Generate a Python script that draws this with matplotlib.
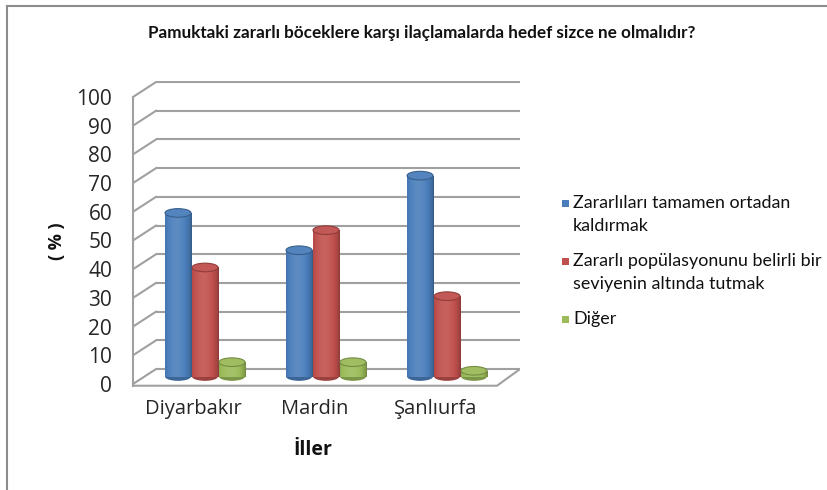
import matplotlib
matplotlib.use('Agg')
import matplotlib.pyplot as plt
import matplotlib.colors as mcolors
from matplotlib.patches import Ellipse, Rectangle
from matplotlib.lines import Line2D
import numpy as np

# data
provinces = ['Diyarbakır', 'Mardin', 'Şanlıurfa']
series_names = ['Zararlıları tamamen ortadan\nkaldırmak',
                'Zararlı popülasyonunu belirli bir\nseviyenin altında tutmak',
                'Diğer']
eradicate = [57, 44, 70]
keep_below = [38, 51, 28]
other = [5, 5, 2]
series = [eradicate, keep_below, other]
colors = ['#4a7ebb', '#c0504d', '#9bbb59']
yticks = list(range(0, 101, 10))

W, H = 828, 490
fig = plt.figure(figsize=(W / 100, H / 100), dpi=100)
fig.patch.set_facecolor('white')

# plot area in pixels -> figure fractions
px_left, px_right = 133, 520
px_top, px_bot = 81.2, 388.3
ax = fig.add_axes([px_left / W, 1 - px_bot / H,
                   (px_right - px_left) / W, (px_bot - px_top) / H])
ax.set_facecolor('none')

# 3d depth offset (x in category units, y in percent units)
DX = 0.19
DY = 5.2
xL, xR = -0.595, 2.603
grid_c = '#a0a0a0'

# back wall + left wall gridlines
for v in yticks:
    ax.plot([xL + DX, xR], [v + DY, v + DY], color=grid_c, lw=1.5, zorder=1,
            solid_capstyle='butt')
    ax.plot([xL, xL + DX], [v, v + DY], color=grid_c, lw=1.5, zorder=1)
# floor edges
ax.plot([xL, xR - DX, xR], [-0.6, -0.6, DY], color=grid_c, lw=1.5, zorder=1)


def shade(color, f):
    r = np.array(mcolors.to_rgb(color))
    if f < 1:
        return r * f
    return r + (1 - r) * min(f - 1, 1)


t = np.linspace(-1, 1, 80)
prof = 0.70 + 0.40 * np.clip(np.cos(np.pi / 2 * (t + 0.15) / 1.15), 0, 1) ** 0.6

offset = 0.223
bw = 0.215
eh = 3.0
base = DY / 2
z = 3
for g in range(len(provinces)):
    for k, vals in enumerate(series):
        c = colors[k]
        xc = g + (k - 1) * offset
        v = vals[g]
        # bottom cap
        ax.add_patch(Ellipse((xc, base), bw, eh, facecolor=shade(c, 0.8),
                             edgecolor='none', zorder=z))
        bars = ax.bar(xc, v, width=bw, bottom=base, color='none',
                      linewidth=0, zorder=z + 0.01)
        body = bars.patches[0]
        img = np.array([[shade(c, f) for f in prof]])
        im = ax.imshow(img, extent=[xc - bw / 2, xc + bw / 2, base, base + v],
                       aspect='auto', interpolation='bilinear', zorder=z + 0.02)
        im.set_clip_path(body)
        # top cap
        ax.add_patch(Ellipse((xc, base + v), bw, eh, facecolor=shade(c, 1.05),
                             edgecolor=shade(c, 0.75), lw=0.8, zorder=z + 0.03))
        z += 0.1

ax.set_xlim(xL, xR)
ax.set_ylim(-1.5, 105.5)

for s in ['top', 'right', 'bottom']:
    ax.spines[s].set_visible(False)
ax.spines['left'].set_bounds(-0.6, 100)
ax.spines['left'].set_color(grid_c)
ax.spines['left'].set_linewidth(1.5)
ax.set_yticks(yticks)
ax.set_xticks([g - DX / 2 for g in range(len(provinces))])
ax.set_xticklabels(provinces)
ax.tick_params(axis='y', length=0, pad=15, labelsize=15, labelcolor='#262626')
ax.tick_params(axis='x', length=0, pad=8, labelsize=14.5, labelcolor='#262626')
for lab in ax.get_yticklabels() + ax.get_xticklabels():
    lab.set_fontfamily('Open Sans')

# titles
fig.text(422 / W, 1 - 33 / H, 'Pamuktaki zararlı böceklere karşı ilaçlamalarda hedef sizce ne olmalıdır?',
         ha='center', va='center', fontsize=12.3, fontweight='bold',
         family='Lato', color='#111111')
fig.text(57 / W, 1 - 241 / H, '( % )', rotation=90, ha='center', va='center',
         fontsize=13, fontweight='bold', family='Open Sans', color='#111111')
fig.text(313 / W, 1 - 450 / H, 'İller', ha='center', va='center',
         fontsize=14, fontweight='bold', family='Open Sans', color='#111111')

# legend
ly = 203
line_gap = 23
for name, c in zip(series_names, colors):
    fig.patches.append(Rectangle((562 / W, 1 - (ly + 4) / H), 7 / W, 7 / H,
                                 transform=fig.transFigure, facecolor=c,
                                 edgecolor='none'))
    lines = name.split('\n')
    for i, ln in enumerate(lines):
        fig.text(573 / W, 1 - (ly + i * line_gap) / H, ln, ha='left', va='center',
                 fontsize=12.9, family='Lato', color='#111111')
    ly += len(lines) * line_gap + 12

# chart frame (only top and left edges visible)
fig.add_artist(Line2D([7.5 / W, 7.5 / W], [0, 1 - 6 / H], transform=fig.transFigure,
                      color='#8c8c8c', lw=1.5))
fig.add_artist(Line2D([7.5 / W, 1], [1 - 6 / H, 1 - 6 / H], transform=fig.transFigure,
                      color='#8c8c8c', lw=1.5))

fig.savefig('out.png', dpi=100, facecolor=fig.get_facecolor())
